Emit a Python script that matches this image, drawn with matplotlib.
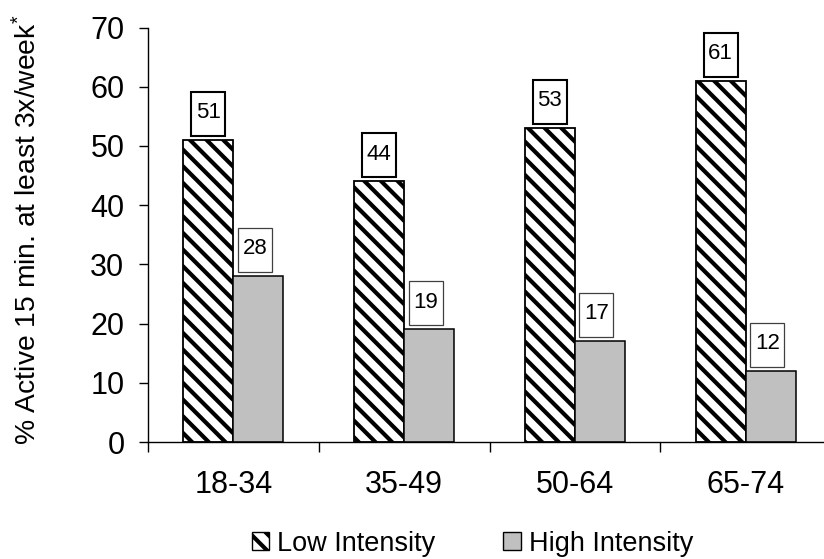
import matplotlib
matplotlib.use('Agg')
import matplotlib.pyplot as plt
from matplotlib.patches import Rectangle, Patch
from matplotlib.offsetbox import DrawingArea, AnnotationBbox
from matplotlib.text import Text
import numpy as np

# ---- data ----
categories = ['18-34', '35-49', '50-64', '65-74']
low_intensity = [51, 44, 53, 61]
high_intensity = [28, 19, 17, 12]
series_names = ['Low Intensity', 'High Intensity']
yticks = [0, 10, 20, 30, 40, 50, 60, 70]
ylabel = '% Active 15 min. at least 3x/week$^{*}$'

plt.rcParams['font.family'] = ['Liberation Sans', 'DejaVu Sans']
plt.rcParams['mathtext.fontset'] = 'custom'
plt.rcParams['mathtext.rm'] = 'Liberation Sans'
plt.rcParams['mathtext.it'] = 'Liberation Sans'
plt.rcParams['mathtext.default'] = 'regular'
plt.rcParams['hatch.linewidth'] = 3.0

W, H, DPI = 824, 559, 100
PT = 72.0 / DPI  # points per pixel

fig = plt.figure(figsize=(W / DPI, H / DPI), dpi=DPI)
ax = fig.add_axes([148 / W, 117 / H, 683 / W, 414.5 / H])

x = np.arange(len(categories))
bw = 0.293
GRAY = '#C0C0C0'
HATCH = '\\\\'

ax.bar(x - bw / 2, low_intensity, bw, facecolor='white', edgecolor='black',
       hatch=HATCH, linewidth=1.3, zorder=2)
ax.bar(x + bw / 2, high_intensity, bw, facecolor=GRAY, edgecolor='black',
       linewidth=1.1, zorder=2)


def label_box(xc, val, edgecolor, lw):
    bwid, bhei = 34 * PT, 44 * PT
    da = DrawingArea(bwid, bhei, 0, 0)
    da.add_artist(Rectangle((0, 0), bwid, bhei, facecolor='white',
                            edgecolor=edgecolor, linewidth=lw))
    da.add_artist(Text(bwid / 2, bhei / 2 + 1, str(val), ha='center', va='center',
                       fontsize=16, family=['Liberation Sans', 'DejaVu Sans']))
    ab = AnnotationBbox(da, (xc, val), xybox=(0, 4 * PT), xycoords='data',
                        boxcoords='offset points', box_alignment=(0.5, 0),
                        frameon=False, pad=0, zorder=5)
    ax.add_artist(ab)


for xi, v in zip(x, low_intensity):
    label_box(xi - bw / 2, v, 'black', 1.5)
for xi, v in zip(x, high_intensity):
    label_box(xi + bw / 2 - 0.02, v, '#404040', 0.9)

ax.set_xlim(-0.5, 3.5)
ax.set_ylim(0, 70)
ax.set_yticks(yticks)
ax.set_xticks(np.arange(-0.5, len(categories) + 0.5, 1.0))
ax.set_xticklabels([])
ax.set_xticks(x, minor=True)
ax.set_xticklabels(categories, minor=True)

ax.tick_params(axis='x', which='major', length=10 * PT, width=1, direction='out')
ax.tick_params(axis='x', which='minor', length=0, pad=20, labelsize=22)
ax.tick_params(axis='y', length=9 * PT, width=1, pad=10.5, labelsize=22)

for s in ['top', 'right']:
    ax.spines[s].set_visible(False)
for s in ['left', 'bottom']:
    ax.spines[s].set_linewidth(1)
    ax.spines[s].set_color('black')

fig.text(28 / W, 1 - 230 / H, ylabel, rotation=90, ha='center', va='center',
         fontsize=20.3)

handles = [Patch(facecolor='white', edgecolor='black', hatch=HATCH, linewidth=1),
           Patch(facecolor=GRAY, edgecolor='black', linewidth=1)]
fig.legend(handles, series_names, loc='center', bbox_to_anchor=(0.5734, 0.027),
           ncol=2, frameon=False, fontsize=19.5, handlelength=0.65,
           handleheight=0.65, handletextpad=0.3, columnspacing=2.5,
           borderpad=0, borderaxespad=0)

fig.savefig('out.png', dpi=DPI)
